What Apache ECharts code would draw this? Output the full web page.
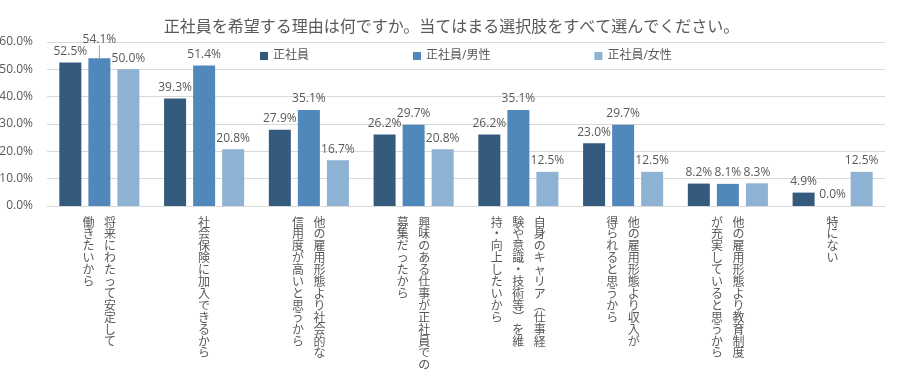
<!DOCTYPE html>
<html>
<head>
<meta charset="utf-8">
<script src="https://cdn.jsdelivr.net/npm/echarts@6/dist/echarts.min.js"></script>
<style>
  html, body { margin: 0; padding: 0; background: #fff; }
  #chart { width: 903px; height: 377px; }
</style>
</head>
<body>
<div id="chart"></div>
<script>
// 選択肢（カテゴリ）
const categories = [
  '将来にわたって安定して働きたいから',
  '社会保険に加入できるから',
  '他の雇用形態より社会的な信用度が高いと思うから',
  '興味のある仕事が正社員での募集だったから',
  '自身のキャリア（仕事経験や意識・技術等）を維持・向上したいから',
  '他の雇用形態より収入が得られると思うから',
  '他の雇用形態より教育制度が充実していると思うから',
  '特にない'
]
// 縦書きラベルの列（右の列から順に）
const labelColumns = [
  ['将来にわたって安定して', '働きたいから'],
  ['社会保険に加入できるから'],
  ['他の雇用形態より社会的な', '信用度が高いと思うから'],
  ['興味のある仕事が正社員での', '募集だったから'],
  ['自身のキャリア︵仕事経', '験や意識・技術等︶を維', '持・向上したいから'],
  ['他の雇用形態より収入が', '得られると思うから'],
  ['他の雇用形態より教育制度', 'が充実していると思うから'],
  ['特にない']
]
const seriesNames = ['正社員', '正社員/男性', '正社員/女性']
const allValues = [52.5, 39.3, 27.9, 26.2, 26.2, 23.0, 8.2, 4.9]
const maleValues = [54.1, 51.4, 35.1, 29.7, 35.1, 29.7, 8.1, 0.0]
const femaleValues = [50.0, 20.8, 16.7, 20.8, 12.5, 12.5, 8.3, 12.5]
const colors = ['#345b7e', '#5088bb', '#8db2d3']

const textColor = '#595959'
const font = '"Open Sans", "Noto Sans CJK JP", sans-serif'

// 縦書き：1行ごとに左の列から文字を並べる
function verticalLabel (value) {
  const cols = labelColumns[categories.indexOf(value)].map((s) => Array.from(s))
  const rows = Math.max(...cols.map((c) => c.length))
  const lines = []
  for (let r = 0; r < rows; r++) {
    let line = ''
    for (let c = cols.length - 1; c >= 0; c--) {
      line += '{c|' + (cols[c][r] || '　') + '}'
    }
    lines.push(line)
  }
  return lines.join('\n')
}

const myChart = echarts.init(document.getElementById('chart'))

const barLabel = {
  show: true,
  position: 'top',
  distance: 5,
  color: textColor,
  fontSize: 12,
  fontFamily: font,
  formatter: (p) => p.value.toFixed(1) + '%'
}

// 54.1%のラベルだけ引き出し線を付ける
const maleData = maleValues.map((v, i) =>
  i === 0 ? { value: v, labelLine: { show: true } } : v
)

myChart.setOption({
  animation: false,
  textStyle: { fontFamily: font },
  title: {
    text: '正社員を希望する理由は何ですか。当てはまる選択肢をすべて選んでください。',
    left: 'center',
    top: 13,
    textStyle: {
      color: textColor,
      fontSize: 16,
      fontWeight: 'normal',
      fontFamily: '"Noto Sans CJK JP", sans-serif'
    }
  },
  legend: {
    left: 255,
    top: 45,
    itemWidth: 8,
    itemHeight: 8,
    itemGap: 104,
    icon: 'rect',
    textStyle: { color: textColor, fontSize: 12, fontFamily: font },
    data: seriesNames
  },
  grid: {
    left: 47,
    right: 18,
    top: 42,
    bottom: 171,
    containLabel: false,
    outerBoundsMode: 'none'
  },
  xAxis: {
    type: 'category',
    data: categories,
    axisTick: { show: false },
    axisLine: { lineStyle: { color: '#d9d9d9' } },
    axisLabel: {
      interval: 0,
      margin: 10,
      color: textColor,
      formatter: verticalLabel,
      rich: {
        c: {
          width: 21.5,
          align: 'center',
          fontSize: 12,
          lineHeight: 11.9,
          color: textColor,
          fontFamily: '"Noto Sans CJK JP", sans-serif'
        }
      }
    }
  },
  yAxis: {
    type: 'value',
    min: 0,
    max: 60,
    interval: 10,
    axisLine: { show: false },
    axisTick: { show: false },
    axisLabel: {
      margin: 14,
      color: textColor,
      fontSize: 12,
      formatter: (v) => v.toFixed(1) + '%'
    },
    splitLine: { lineStyle: { color: '#d9d9d9' } }
  },
  series: [
    {
      name: seriesNames[0],
      type: 'bar',
      data: allValues,
      barWidth: 22,
      barGap: '32%',
      itemStyle: { color: colors[0] },
      label: barLabel
    },
    {
      name: seriesNames[1],
      type: 'bar',
      data: maleData,
      barWidth: 22,
      barGap: '32%',
      itemStyle: { color: colors[1] },
      label: barLabel,
      labelLayout: (p) => (p.dataIndex === 0 ? { dy: -8 } : {}),
      labelLine: { show: false, length2: 0, lineStyle: { color: '#a6a6a6', width: 1 } }
    },
    {
      name: seriesNames[2],
      type: 'bar',
      data: femaleValues,
      barWidth: 22,
      barGap: '32%',
      itemStyle: { color: colors[2] },
      label: barLabel
    }
  ]
})
</script>
</body>
</html>
